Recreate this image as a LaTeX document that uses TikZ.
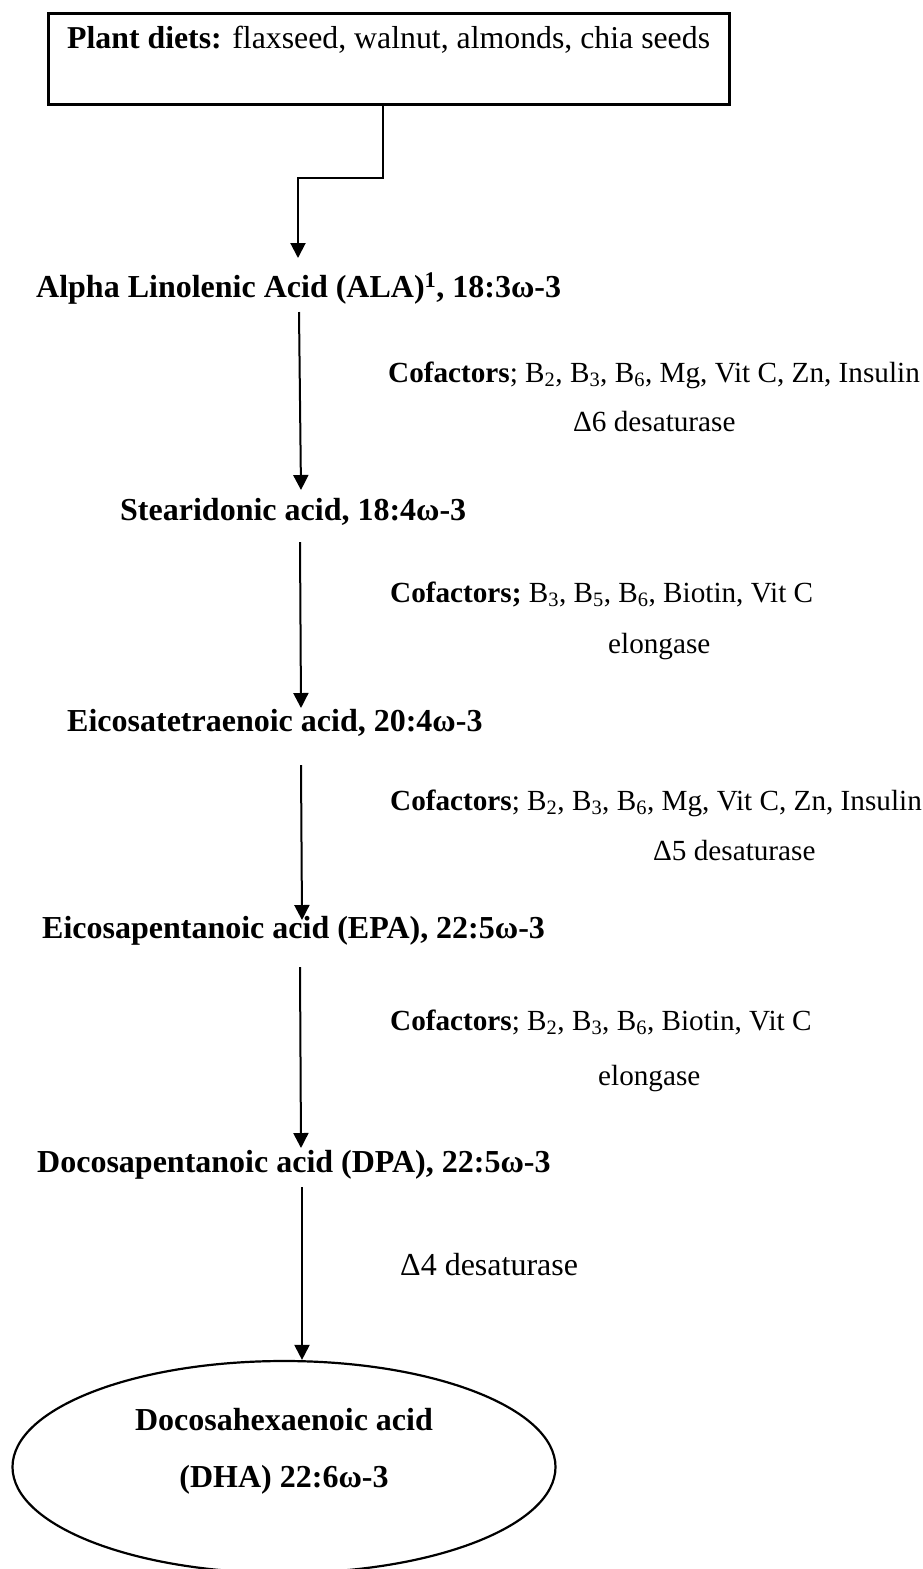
\documentclass[tikz,border=0pt]{standalone}
\usepackage{fontspec}
\setmainfont{Liberation Serif}
\usetikzlibrary{arrows.meta,shapes.geometric}
\begin{document}
\begin{tikzpicture}[x=1pt,y=-1pt,
  lbl/.style={inner sep=0pt, anchor=base west, font=\fontsize{29.2}{34}\selectfont},
  acid/.style={inner sep=0pt, anchor=base west, font=\fontsize{32}{38}\selectfont\bfseries},
  dhatxt/.style={inner sep=0pt, anchor=base, font=\fontsize{32}{38}\selectfont\bfseries},
  planttxt/.style={inner sep=0pt, anchor=base west, font=\fontsize{31.8}{38}\selectfont},
  boxst/.style={draw, line width=3pt, inner sep=0pt, anchor=north west},
  arr/.style={line width=2pt, -{Triangle[length=15pt,width=15pt]}},
]
\clip (0,0) rectangle (922,1569);
\fill[white] (0,0) rectangle (922,1569);

% source box
\node[boxst, minimum width=681pt, minimum height=91pt] (plant) at (47,12) {};
\node[planttxt] (plantlbl) at (67,48) {\textbf{Plant diets:} flaxseed, walnut, almonds, chia seeds};

% acids
\node[acid] (ala) at (36,297) {Alpha Linolenic Acid (ALA)\textsuperscript{1}, 18:3ω-3};
\node[acid] (sda) at (120,520) {Stearidonic acid, 18:4ω-3};
\node[acid] (eta) at (67,731) {Eicosatetraenoic acid, 20:4ω-3};
\node[acid] (epa) at (42,938) {Eicosapentanoic acid (EPA), 22:5ω-3};
\node[acid] (dpa) at (37,1172) {Docosapentanoic acid (DPA), 22:5ω-3};

% final product
\node[draw, ellipse, line width=2.2pt, minimum width=543pt, minimum height=212pt] (dha) at (284,1467) {};
\node[dhatxt] (dha1) at (284,1430) {Docosahexaenoic acid};
\node[dhatxt] (dha2) at (284,1487) {(DHA) 22:6ω-3};

% enzymes and cofactors
\node[lbl] (cof1) at (388,382) {\textbf{Cofactors}; B\textsubscript{2}, B\textsubscript{3}, B\textsubscript{6}, Mg, Vit C, Zn, Insulin};
\node[lbl] (enz1) at (573,431) {Δ6 desaturase};
\node[lbl] (cof2) at (390,602) {\textbf{Cofactors;} B\textsubscript{3}, B\textsubscript{5}, B\textsubscript{6}, Biotin, Vit C};
\node[lbl] (enz2) at (608,653) {elongase};
\node[lbl] (cof3) at (390,810) {\textbf{Cofactors}; B\textsubscript{2}, B\textsubscript{3}, B\textsubscript{6}, Mg, Vit C, Zn, Insulin};
\node[lbl] (enz3) at (653,860) {Δ5 desaturase};
\node[lbl] (cof4) at (390,1030) {\textbf{Cofactors}; B\textsubscript{2}, B\textsubscript{3}, B\textsubscript{6}, Biotin, Vit C};
\node[lbl] (enz4) at (598,1085) {elongase};
\node[lbl, font=\fontsize{32}{38}\selectfont] (enz5) at (400,1275) {Δ4 desaturase};

% connector coordinates
\coordinate (k1) at (383,178);
\coordinate (k2) at (298,178);
\coordinate (t1) at (298,258);
\coordinate (s2) at (299,312);
\coordinate (t2) at (301,490);
\coordinate (s3) at (300,542);
\coordinate (t3) at (301,708);
\coordinate (s4) at (301,765);
\coordinate (t4) at (302,920);
\coordinate (s5) at (300,967);
\coordinate (t5) at (301,1148);
\coordinate (s6) at (302,1187);

% connectors
\draw[arr] (plant.south -| k1) -- (k1) -- (k2) -- (t1);
\draw[arr] (s2) -- (t2);
\draw[arr] (s3) -- (t3);
\draw[arr] (s4) -- (t4);
\draw[arr] (s5) -- (t5);
\draw[arr] (s6) -- (s6 |- dha.north);
\end{tikzpicture}
\end{document}
